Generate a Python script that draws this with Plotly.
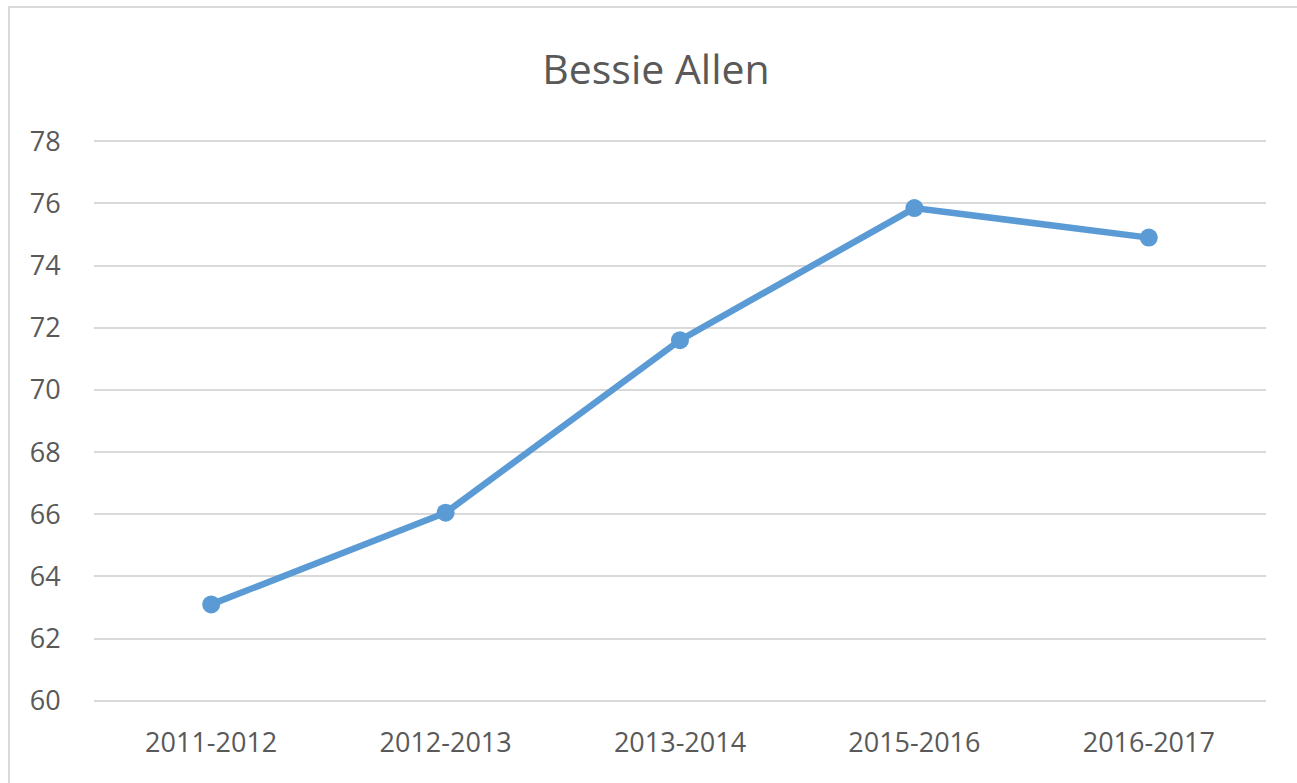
import plotly.graph_objects as go

categories = ["2011-2012", "2012-2013", "2013-2014", "2015-2016", "2016-2017"]
values = [63.1, 66.05, 71.6, 75.85, 74.9]
y_ticks = [60, 62, 64, 66, 68, 70, 72, 74, 76, 78]
title_text = "Bessie Allen"

W, H = 1297, 783
L, R, T, B = 94, 31, 140, 81
pw, ph = W - L - R, H - T - B

fig = go.Figure()
fig.add_trace(go.Scatter(
    x=categories, y=values, mode="lines+markers",
    line=dict(color="#5b9bd5", width=6.5),
    marker=dict(color="#5b9bd5", size=18),
    showlegend=False, cliponaxis=False,
))

fig.update_layout(
    width=W, height=H,
    margin=dict(l=L, r=R, t=T, b=B),
    paper_bgcolor="white", plot_bgcolor="white",
    font=dict(family="Open Sans", color="#595959"),
    title=dict(text=title_text, x=656 / W, xref="container", xanchor="center",
               y=1 - 70 / H, yref="container", yanchor="middle",
               font=dict(size=41, color="#595959", family="Open Sans")),
    xaxis=dict(type="category", range=[-0.5, 4.5], showgrid=False,
               showline=False, zeroline=False,
               ticks="outside", ticklen=17, tickcolor="rgba(0,0,0,0)",
               tickfont=dict(size=27, color="#595959")),
    yaxis=dict(range=[59.96, 78.04], tickvals=y_ticks, showgrid=True,
               gridcolor="#d9d9d9", gridwidth=1.5, zeroline=False, showline=False,
               ticks="outside", ticklen=27, tickcolor="rgba(0,0,0,0)",
               tickfont=dict(size=27, color="#595959")),
    shapes=[dict(type="rect", xref="paper", yref="paper",
                 x0=(9 - L) / pw, x1=(W + 20 - L) / pw,
                 y0=(H - B - (H + 20)) / ph, y1=(H - B - 7) / ph,
                 line=dict(color="#d9d9d9", width=2), fillcolor="rgba(0,0,0,0)",
                 layer="below")],
)

fig.write_html("out.html")
